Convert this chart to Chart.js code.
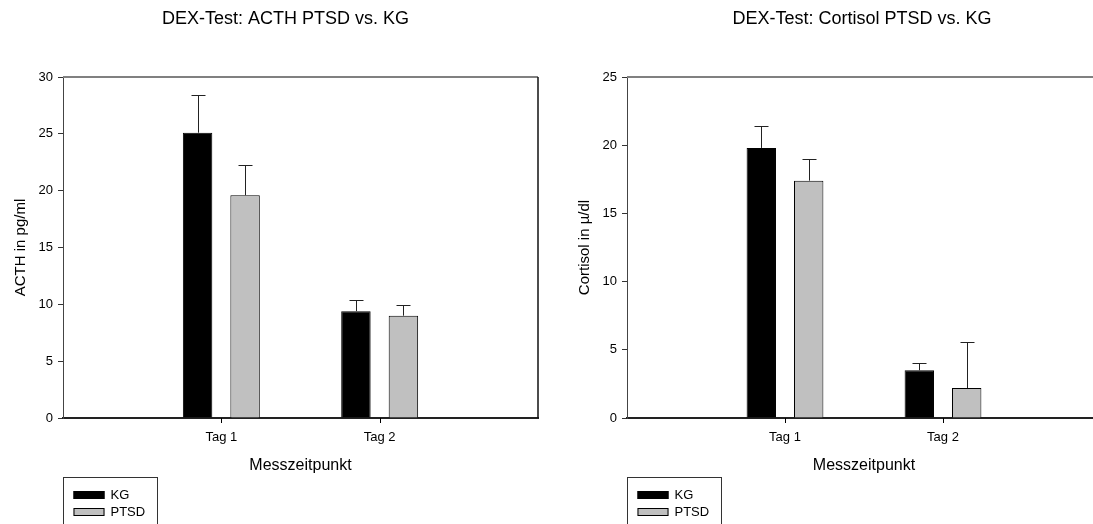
<!DOCTYPE html>
<html>
<head>
<meta charset="utf-8">
<script src="https://cdn.jsdelivr.net/npm/chart.js@4/dist/chart.umd.min.js"></script>
<style>
  html, body { margin: 0; padding: 0; background: #fff; overflow: hidden; }
  #wrap { position: relative; width: 1093px; height: 524px; overflow: hidden; }
  #acth { position: absolute; left: 0; top: 0; }
  #cortisol { position: absolute; left: 546px; top: 0; }
</style>
</head>
<body>
<div id="wrap">
  <canvas id="acth" width="546" height="524"></canvas>
  <canvas id="cortisol" width="570" height="524"></canvas>
</div>
<script>
// Messzeitpunkte und Gruppen
const zeitpunkte = ["Tag 1", "Tag 2"];
const gruppen = ["KG", "PTSD"];

// ACTH (pg/ml): Mittelwert und Fehler (nach oben)
const acthKG = [25.1, 9.4];
const acthKGErr = [3.3, 1.0];
const acthPTSD = [19.6, 9.0];
const acthPTSDErr = [2.7, 0.9];

// Cortisol (µ/dl)
const cortisolKG = [19.8, 3.5];
const cortisolKGErr = [1.6, 0.5];
const cortisolPTSD = [17.4, 2.2];
const cortisolPTSDErr = [1.6, 3.35];

Chart.defaults.font.family = "'Liberation Sans', Arial, sans-serif";
Chart.defaults.color = "#000";

// leere Kategorie links und rechts, damit die Gruppen wie im Original sitzen
const pad = (arr) => [null, ...arr, null];

const errorBars = {
  id: "errorBars",
  afterDatasetsDraw(chart) {
    const ctx = chart.ctx;
    const y = chart.scales.y;
    ctx.save();
    ctx.strokeStyle = "#222";
    ctx.lineWidth = 1;
    chart.data.datasets.forEach((ds, di) => {
      const meta = chart.getDatasetMeta(di);
      meta.data.forEach((bar, i) => {
        const v = ds.data[i], e = ds.err[i];
        if (v == null || e == null) return;
        const x = Math.round(bar.x) + 0.5;
        const top = Math.round(y.getPixelForValue(v + e)) + 0.5;
        ctx.beginPath();
        ctx.moveTo(x, bar.y);
        ctx.lineTo(x, top);
        ctx.moveTo(x - 7, top);
        ctx.lineTo(x + 7, top);
        ctx.stroke();
      });
    });
    ctx.restore();
  }
};

// Rahmen oben/rechts und die kleinen Striche unter Tag 1 / Tag 2
const frame = {
  id: "frame",
  afterDraw(chart) {
    const { ctx, chartArea: a } = chart;
    const xs = chart.scales.x;
    ctx.save();
    ctx.strokeStyle = "#808080";
    ctx.lineWidth = 2;
    ctx.beginPath();
    ctx.moveTo(a.left, a.top);
    ctx.lineTo(a.right, a.top);
    ctx.stroke();
    ctx.strokeStyle = "#111";
    ctx.lineWidth = 1.5;
    ctx.beginPath();
    ctx.moveTo(a.right, a.top);
    ctx.lineTo(a.right, a.bottom);
    ctx.stroke();
    ctx.strokeStyle = "#000";
    ctx.lineWidth = 1;
    xs.ticks.forEach((t, i) => {
      if (!t.label) return;
      const x = Math.round(xs.getPixelForTick(i)) + 0.5;
      ctx.beginPath();
      ctx.moveTo(x, a.bottom);
      ctx.lineTo(x, a.bottom + 5);
      ctx.stroke();
    });
    ctx.restore();
  }
};

const panelTitle = {
  id: "panelTitle",
  afterDraw(chart, args, opts) {
    const { ctx, chartArea: a } = chart;
    ctx.save();
    ctx.font = "18px 'Liberation Sans', Arial, sans-serif";
    ctx.fillStyle = "#000";
    ctx.textAlign = "center";
    ctx.textBaseline = "middle";
    ctx.fillText(opts.text, (a.left + a.right) / 2 + opts.shift, opts.y);
    ctx.restore();
  }
};

const boxLegend = {
  id: "boxLegend",
  afterDraw(chart, args, opts) {
    const { ctx, chartArea: a } = chart;
    const left = a.left + 0.5;
    ctx.save();
    ctx.strokeStyle = "#333";
    ctx.lineWidth = 1;
    ctx.strokeRect(left, opts.top + 0.5, 94, 80);
    ctx.font = "13px 'Liberation Sans', Arial, sans-serif";
    ctx.textBaseline = "middle";
    chart.data.datasets.forEach((ds, i) => {
      const y = opts.top + 14 + i * 17;
      ctx.fillStyle = ds.backgroundColor;
      ctx.fillRect(left + 10, y, 31, 8);
      ctx.strokeStyle = "#000";
      ctx.strokeRect(left + 10.5, y + 0.5, 30, 7);
      ctx.fillStyle = "#000";
      ctx.fillText(ds.label, left + 47, y + 4);
    });
    ctx.restore();
  }
};

function makeChart(id, c) {
  return new Chart(document.getElementById(id), {
    type: "bar",
    data: {
      labels: ["", ...zeitpunkte, ""],
      datasets: [
        { label: gruppen[0], data: pad(c.kg), err: pad(c.kgErr),
          backgroundColor: "#000000", borderColor: "#000", borderWidth: 1 },
        { label: gruppen[1], data: pad(c.ptsd), err: pad(c.ptsdErr),
          backgroundColor: "#c0c0c0", borderColor: "#000", borderWidth: 1 }
      ]
    },
    options: {
      responsive: false,
      animation: false,
      datasets: { bar: { categoryPercentage: 0.6, barPercentage: 0.62 } },
      layout: { padding: { top: 77, right: c.padRight, bottom: 40, left: c.padLeft } },
      plugins: {
        legend: { display: false },
        tooltip: { enabled: false },
        panelTitle: { text: c.title, shift: c.titleShift, y: 19 },
        boxLegend: { top: 477 }
      },
      scales: {
        x: {
          offset: false,
          grid: { offset: false, drawOnChartArea: false, tickLength: 5, tickColor: "rgba(0,0,0,0)" },
          border: { color: "#222", width: 2 },
          ticks: { font: { size: 13 }, padding: 7, autoSkip: false, maxRotation: 0 },
          title: { display: true, text: "Messzeitpunkt", font: { size: 16 }, padding: { top: 0, bottom: 9 } },
          afterFit: (s) => { s.height = 66; }
        },
        y: {
          min: 0,
          max: c.max,
          grid: { drawOnChartArea: false, tickLength: 5, tickColor: "#333" },
          border: { color: "#444", width: 1 },
          ticks: { stepSize: 5, font: { size: 13 }, padding: 5 },
          title: { display: true, text: c.yTitle, font: { size: 15 }, padding: { top: 12, bottom: 0 } },
          afterFit: (s) => { s.width = 63; }
        }
      }
    },
    plugins: [errorBars, frame, panelTitle, boxLegend]
  });
}

makeChart("acth", {
  kg: acthKG, kgErr: acthKGErr, ptsd: acthPTSD, ptsdErr: acthPTSDErr,
  max: 30, yTitle: "ACTH in pg/ml", title: "DEX-Test: ACTH PTSD vs. KG",
  titleShift: -15, padLeft: 0, padRight: 8
});

makeChart("cortisol", {
  kg: cortisolKG, kgErr: cortisolKGErr, ptsd: cortisolPTSD, ptsdErr: cortisolPTSDErr,
  max: 25, yTitle: "Cortisol in µ/dl", title: "DEX-Test: Cortisol PTSD vs. KG",
  titleShift: -2, padLeft: 18, padRight: 15
});
</script>
</body>
</html>
